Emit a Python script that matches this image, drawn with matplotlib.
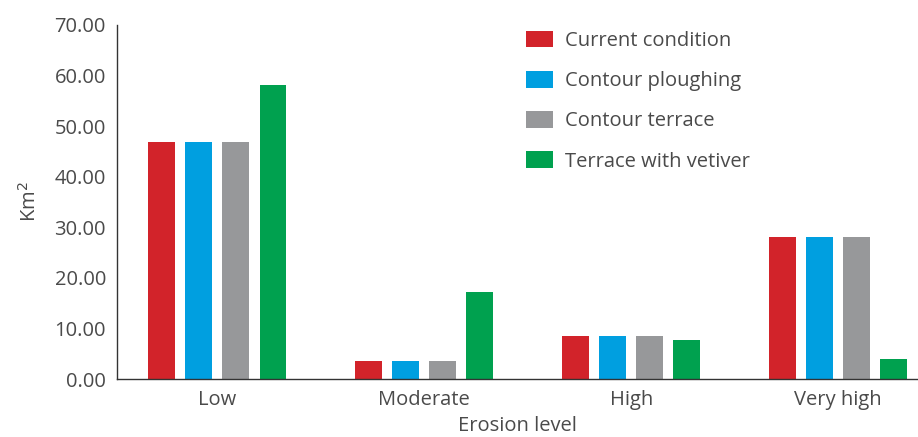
import matplotlib
matplotlib.use("Agg")
import matplotlib.pyplot as plt
import numpy as np

categories = ["Low", "Moderate", "High", "Very high"]
series_names = ["Current condition", "Contour ploughing", "Contour terrace", "Terrace with vetiver"]
current = [46.9, 3.5, 8.5, 28.1]
ploughing = [46.9, 3.5, 8.5, 28.1]
terrace = [46.9, 3.5, 8.5, 28.1]
vetiver = [58.1, 17.2, 7.7, 3.9]
yticks = [0, 10, 20, 30, 40, 50, 60, 70]

colors = ["#D2232A", "#009FE0", "#97989A", "#00A14F"]
series = [current, ploughing, terrace, vetiver]

plt.rcParams['font.family'] = ['Open Sans', 'DejaVu Sans']
text_color = "#4a4a4a"
fs = 14.5

fig = plt.figure(figsize=(9.18, 4.37), dpi=100)
ax = fig.add_axes([0.1275, 0.1327, 0.8725, 0.8103])

x = np.arange(len(categories))
width = 0.13
step = 0.179
for i, (vals, name, c) in enumerate(zip(series, series_names, colors)):
    ax.bar(x + (i - 1.5) * step, vals, width=width, color=c, label=name)

ax.set_xlim(-0.485, 3.386)
ax.set_ylim(0, 70)
ax.set_yticks(yticks)
ax.set_yticklabels([f"{v:.2f}" for v in yticks], fontsize=fs, color=text_color)
ax.set_xticks(x)
ax.set_xticklabels(categories, fontsize=fs, color=text_color)
ax.tick_params(axis='y', length=0, pad=8)
ax.tick_params(axis='x', length=0, pad=8)
for s in ['top', 'right']:
    ax.spines[s].set_visible(False)
for s in ['left', 'bottom']:
    ax.spines[s].set_color("#333333")
    ax.spines[s].set_linewidth(1.0)

ax.set_xlabel("Erosion level", fontsize=fs, color=text_color, labelpad=4)
ax.set_ylabel("Km$^2$", fontsize=fs, color=text_color, labelpad=10)

leg = ax.legend(loc='upper left', bbox_to_anchor=(0.4875, 1.035), frameon=False,
                fontsize=fs, handlelength=1.34, handleheight=0.9,
                handletextpad=0.6, labelspacing=0.99, labelcolor=text_color)

fig.savefig("out.png", dpi=100)
